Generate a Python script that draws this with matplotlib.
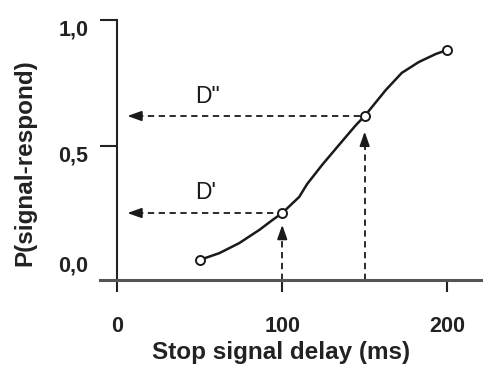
import numpy as np
import matplotlib
matplotlib.use('Agg')
import matplotlib.pyplot as plt

plt.rcParams['font.family'] = ['Liberation Sans', 'DejaVu Sans']

# 측정 지점 (stop signal delay, ms) 과 반응 확률
delay_ms = [50, 100, 150, 200]
p_respond = [0.048, 0.234, 0.619, 0.881]

# 그림에서 읽은 곡선 경로
curve_x = [50, 61.9, 74.0, 86.1, 94.0, 100, 110.3, 115.1, 124.2, 134.4,
           144.7, 150, 162.8, 172.5, 182.8, 193.1, 200]
curve_y = [0.048, 0.075, 0.115, 0.167, 0.206, 0.234, 0.298, 0.349, 0.425, 0.504,
           0.583, 0.619, 0.722, 0.790, 0.833, 0.865, 0.881]

# 축 눈금
xticks = [0, 100, 200]
xtick_labels = ['0', '100', '200']
yticks = [0.0, 0.5, 1.0]
ytick_labels = ['0,0', '0,5', '1,0']

# 화살표 끝 위치
d1_tip = (6, 0.187)    # D' : 가로 화살표 끝 x, 세로 화살표 끝 y
d2_tip = (6, 0.557)    # D''
x_axis_y = -0.032

fig = plt.figure(figsize=(4.83, 3.67), dpi=100)
ax = fig.add_axes([100 / 483, 72 / 367, 383 / 483, 285 / 367])
ax.set_xlim(-10.57, 221.8)
ax.set_ylim(-0.0913, 1.0397)

ax.spines['top'].set_visible(False)
ax.spines['right'].set_visible(False)
ax.spines['left'].set_position(('data', 0))
ax.spines['left'].set_bounds(x_axis_y, 1.0)
ax.spines['left'].set_linewidth(1.5)
ax.spines['left'].set_color('#222222')
ax.spines['bottom'].set_position(('data', x_axis_y))
ax.spines['bottom'].set_linewidth(2.2)
ax.spines['bottom'].set_color('#555555')

ax.set_xticks(xticks)
ax.set_xticklabels(xtick_labels, fontsize=15.5, fontweight='bold', color='#222222')
ax.tick_params(axis='x', direction='out', length=8.6, width=1.5, pad=17, colors='#222222')

ax.set_yticks([0.5, 1.0])
ax.set_yticklabels([])
ax.tick_params(axis='y', direction='out', length=12.2, width=1.5, colors='#222222')

# y 눈금 글자 (원본처럼 약간 어긋나게)
nudges = {0.0: 4, 0.5: -7, 1.0: -7}
for v, lab in zip(yticks, ytick_labels):
    ax.annotate(lab, (0, v), xytext=(-21, nudges[v]), textcoords='offset points',
                ha='right', va='center', fontsize=15.5, fontweight='bold', color='#222222')

ax.set_xlabel('Stop signal delay (ms)', fontsize=17.5, fontweight='bold', color='#222222')
ax.xaxis.set_label_coords(0.474, -0.2)
ax.xaxis.label.set_verticalalignment('center')
ax.set_ylabel('P(signal-respond)', fontsize=17.5, fontweight='bold', color='#222222')
ax.yaxis.set_label_coords(-0.196, 0.463)
ax.yaxis.label.set_verticalalignment('center')

# 곡선과 측정점
ax.plot(curve_x, curve_y, color='#1a1a1a', lw=1.8, zorder=3)
ax.plot(delay_ms, p_respond, 'o', ms=6.5, mfc='white', mec='#1a1a1a', mew=1.4, zorder=4)

# 점선 + 화살표
dash = dict(color='#1a1a1a', lw=1.3, linestyle=(0, (3.5, 2.5)), zorder=2)
head = dict(arrowstyle='-|>,head_length=0.85,head_width=0.3', color='#1a1a1a',
            lw=1.3, shrinkA=0, shrinkB=0)
for (xd, yd), (tip_x, tip_y) in [((delay_ms[1], p_respond[1]), d1_tip),
                                 ((delay_ms[2], p_respond[2]), d2_tip)]:
    # 가로: 점에서 y축 쪽으로
    ax.plot([tip_x + 6, xd - 3], [yd, yd], **dash)
    ax.annotate('', xy=(tip_x, yd), xytext=(tip_x + 7, yd), arrowprops=head)
    # 세로: x축에서 점 쪽으로
    ax.plot([xd, xd], [x_axis_y, tip_y - 0.04], **dash)
    ax.annotate('', xy=(xd, tip_y), xytext=(xd, tip_y - 0.045), arrowprops=head)

ax.text(47, 0.317, "D'", fontsize=16.5, ha='left', va='center', color='#1a1a1a')
ax.text(47, 0.698, 'D"', fontsize=16.5, ha='left', va='center', color='#1a1a1a')

fig.savefig('out.png', dpi=100)
